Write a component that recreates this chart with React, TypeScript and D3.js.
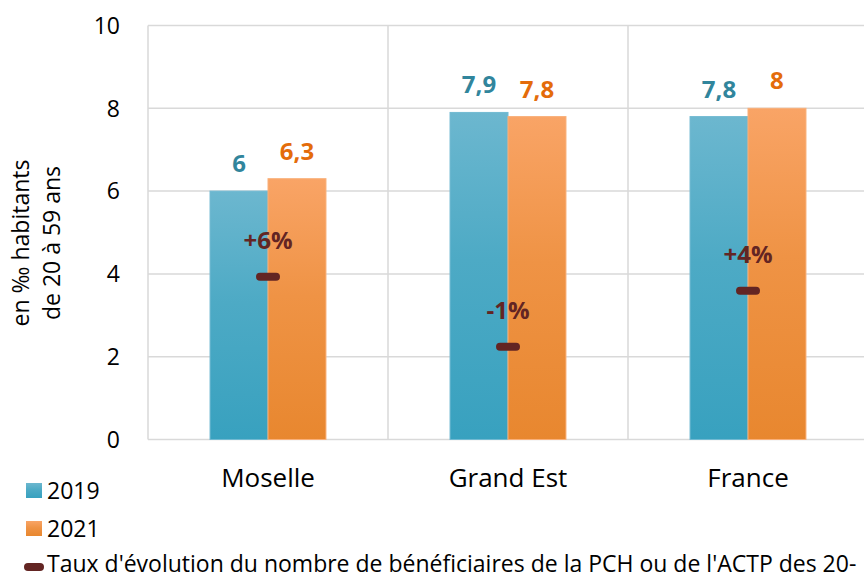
import { useEffect, useRef } from "react";
import * as d3 from "d3";

const categories = ["Moselle", "Grand Est", "France"];
const seriesNames = ["2019", "2021"];
const values2019 = [6, 7.9, 7.8];
const values2021 = [6.3, 7.8, 8];
const rateLabels = ["+6%", "-1%", "+4%"];
// level of the rate marker, read on the left axis
const rateLevels = [3.93, 2.24, 3.59];
const yTicks = [0, 2, 4, 6, 8, 10];
// the reference legend is cut at the right edge after "20-"
const legendRateText =
  "Taux d'évolution du nombre de bénéficiaires de la PCH ou de l'ACTP des 20-";

const FONT = "'Open Sans', 'Noto Sans', sans-serif";

const App = () => {
  const ref = useRef(null);

  const width = 864;
  const height = 578;
  const plot = { left: 148, right: 868, top: 25.5, bottom: 439.5 };

  useEffect(() => {
    const svg = d3.select(ref.current);
    svg.selectAll("*").remove();

    const x0 = d3
      .scaleBand()
      .domain(categories)
      .range([plot.left, plot.right])
      .paddingInner(0)
      .paddingOuter(0);
    const x1 = d3
      .scaleBand()
      .domain(seriesNames)
      .range([0, x0.bandwidth()])
      .paddingInner(0)
      .paddingOuter(1.07);
    const y = d3.scaleLinear().domain([0, 10]).range([plot.bottom, plot.top]);

    const defs = svg.append("defs");
    const grads = [
      { id: "g2019", top: "#6CB7CF", bottom: "#38A1BF" },
      { id: "g2021", top: "#F9A466", bottom: "#E8872F" },
    ];
    grads.forEach((g) => {
      const lg = defs
        .append("linearGradient")
        .attr("id", g.id)
        .attr("x1", 0)
        .attr("y1", 0)
        .attr("x2", 0)
        .attr("y2", 1);
      lg.append("stop").attr("offset", "0%").attr("stop-color", g.top);
      lg.append("stop").attr("offset", "45%").attr("stop-color", d3.interpolateRgb(g.top, g.bottom)(0.6));
      lg.append("stop").attr("offset", "100%").attr("stop-color", g.bottom);
    });
    const fills: Record<string, string> = { "2019": "url(#g2019)", "2021": "url(#g2021)" };
    const strokes: Record<string, string> = { "2019": "#72BAD2", "2021": "#F9B07A" };
    const labelColors: Record<string, string> = { "2019": "#31859C", "2021": "#E46C0A" };

    // grid
    const grid = svg.append("g").attr("stroke", "#D9D9D9").attr("stroke-width", 1.5);
    grid
      .selectAll("line.h")
      .data(yTicks)
      .join("line")
      .attr("class", "h")
      .attr("x1", plot.left)
      .attr("x2", plot.right)
      .attr("y1", (d) => y(d))
      .attr("y2", (d) => y(d));
    grid
      .selectAll("line.v")
      .data([...categories.map((c) => x0(c)), plot.right])
      .join("line")
      .attr("class", "v")
      .attr("x1", (d) => d)
      .attr("x2", (d) => d)
      .attr("y1", plot.top)
      .attr("y2", plot.bottom);

    // y tick labels
    svg
      .append("g")
      .selectAll("text")
      .data(yTicks)
      .join("text")
      .attr("x", 120)
      .attr("y", (d) => y(d))
      .attr("dy", "0.36em")
      .attr("text-anchor", "end")
      .attr("font-family", FONT)
      .attr("font-size", 23)
      .attr("fill", "#000")
      .text((d) => d);

    // y title
    const title = svg
      .append("text")
      .attr("transform", "translate(0,243) rotate(-90)")
      .attr("text-anchor", "middle")
      .attr("font-family", FONT)
      .attr("font-size", 23)
      .attr("fill", "#000");
    title.append("tspan").attr("x", 0).attr("y", 29).text("en ‰ habitants");
    title.append("tspan").attr("x", 0).attr("y", 60).text("de 20 à 59 ans");

    // bars
    const rows = categories.map((c, i) => ({
      cat: c,
      vals: [
        { key: "2019", v: values2019[i] },
        { key: "2021", v: values2021[i] },
      ],
    }));
    const groups = svg
      .append("g")
      .selectAll("g")
      .data(rows)
      .join("g")
      .attr("transform", (d) => `translate(${x0(d.cat)},0)`);
    groups
      .selectAll("rect")
      .data((d) => d.vals)
      .join("rect")
      .attr("x", (d) => x1(d.key))
      .attr("y", (d) => y(d.v))
      .attr("width", x1.bandwidth())
      .attr("height", (d) => y(0) - y(d.v))
      .attr("fill", (d) => fills[d.key])
      .attr("stroke", (d) => strokes[d.key])
      .attr("stroke-width", 1);
    groups
      .selectAll("text")
      .data((d) => d.vals)
      .join("text")
      .attr("x", (d) => x1(d.key) + x1.bandwidth() / 2)
      .attr("y", (d) => y(d.v) - 19)
      .attr("text-anchor", "middle")
      .attr("font-family", FONT)
      .attr("font-weight", "bold")
      .attr("font-size", 24)
      .attr("fill", (d) => labelColors[d.key])
      .text((d) => String(d.v).replace(".", ","));

    // rate markers
    const rates = svg.append("g");
    rates
      .selectAll("rect")
      .data(categories)
      .join("rect")
      .attr("x", (d) => x0(d) + x0.bandwidth() / 2 - 12)
      .attr("y", (d, i) => y(rateLevels[i]) - 4)
      .attr("width", 24)
      .attr("height", 8)
      .attr("rx", 4)
      .attr("fill", "#632523");
    rates
      .selectAll("text")
      .data(categories)
      .join("text")
      .attr("x", (d) => x0(d) + x0.bandwidth() / 2)
      .attr("y", (d, i) => y(rateLevels[i]) - 28)
      .attr("text-anchor", "middle")
      .attr("font-family", FONT)
      .attr("font-weight", "bold")
      .attr("font-size", 24)
      .attr("fill", "#632523")
      .text((d, i) => rateLabels[i]);

    // category labels
    svg
      .append("g")
      .selectAll("text")
      .data(categories)
      .join("text")
      .attr("x", (d) => x0(d) + x0.bandwidth() / 2)
      .attr("y", 487)
      .attr("text-anchor", "middle")
      .attr("font-family", FONT)
      .attr("font-size", 26)
      .attr("fill", "#000")
      .text((d) => d);

    // legend
    const legend = svg.append("g").attr("font-family", FONT).attr("font-size", 23).attr("fill", "#000");
    seriesNames.forEach((s, i) => {
      const ly = 483 + i * 38;
      legend
        .append("rect")
        .attr("x", 26)
        .attr("y", ly)
        .attr("width", 16)
        .attr("height", 15)
        .attr("fill", fills[s]);
      legend.append("text").attr("x", 47).attr("y", ly + 15.5).text(s);
    });
    legend
      .append("line")
      .attr("x1", 28)
      .attr("x2", 40)
      .attr("y1", 567)
      .attr("y2", 567)
      .attr("stroke", "#632523")
      .attr("stroke-width", 8)
      .attr("stroke-linecap", "round");
    legend.append("text").attr("x", 47).attr("y", 572).text(legendRateText);
  }, []);

  return (
    <svg
      ref={ref}
      width={width}
      height={height}
      style={{ position: "absolute", left: 0, top: 0, background: "#fff" }}
    ></svg>
  );
};

export default App;
